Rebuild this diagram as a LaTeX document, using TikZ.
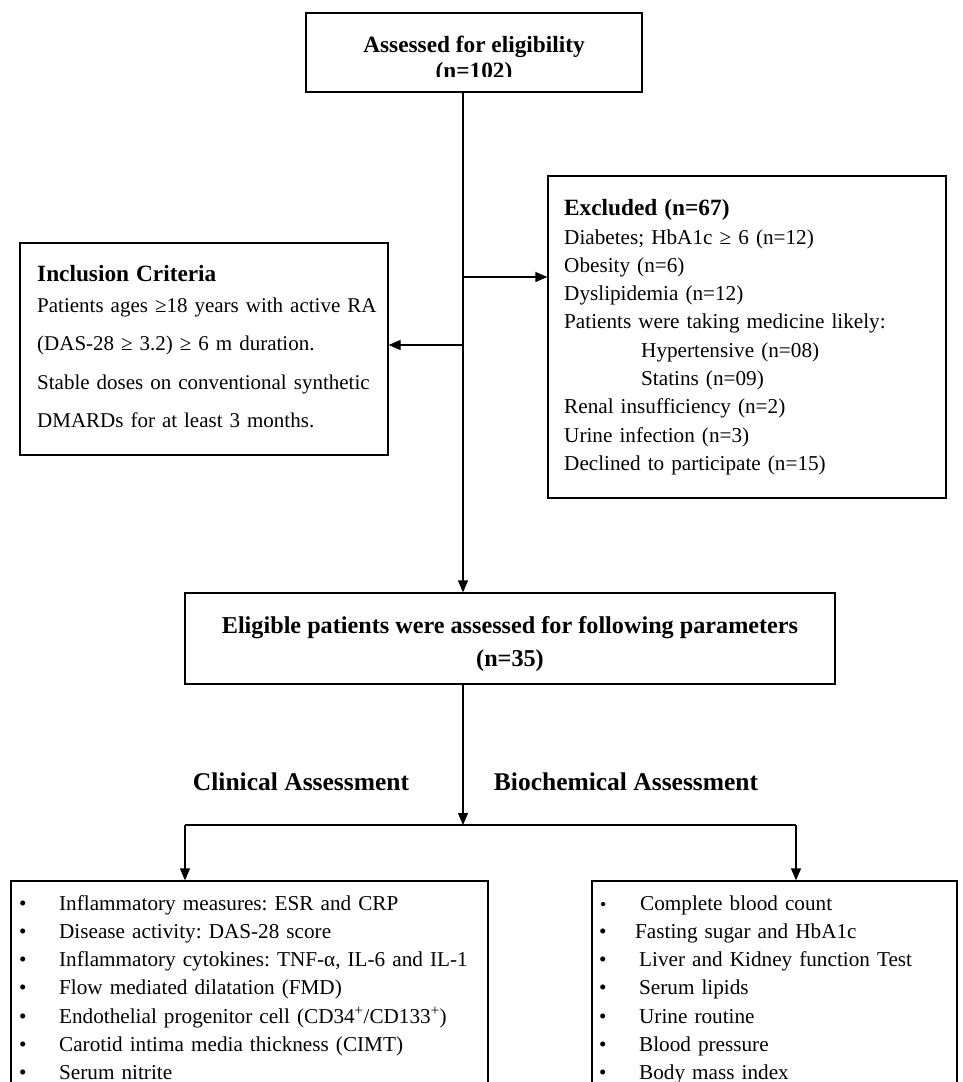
\documentclass[tikz,border=0pt]{standalone}
\usepackage{fontspec}
\setmainfont{Liberation Serif}
\usetikzlibrary{arrows.meta}
\frenchspacing
\newcommand\hdfont{\bfseries\fontsize{23.3bp}{26bp}\selectfont}
\newcommand\hdbig{\bfseries\fontsize{24.2bp}{28bp}\selectfont}
\newcommand\asfont{\bfseries\fontsize{25.5bp}{28bp}\selectfont}
\newcommand\rgfont{\fontsize{21.2bp}{28.3bp}\selectfont}
\newcommand\inclfont{\fontsize{21bp}{38.5bp}\selectfont}
\newcommand\blt{\makebox[40bp][l]{•}}
\begin{document}
\begin{tikzpicture}[x=1bp,y=-1bp,
  box/.style={draw, line width=1.3bp, rectangle, inner sep=0pt},
  conn/.style={line width=1.3bp},
  arr/.style={line width=1.3bp, -{Triangle[length=12bp,width=10bp]}},
  txt/.style={inner sep=0pt, anchor=base west, align=left, text width=#1},
  ctr/.style={inner sep=0pt, anchor=base}
]
\clip (0,0) rectangle (963,1082);
\fill[white] (0,0) rectangle (963,1082);

% boxes
\node[box, minimum width=336bp, minimum height=79bp] (top) at (474,52.5) {};
\node[box, minimum width=368bp, minimum height=212bp] (incl) at (204,349) {};
\node[box, minimum width=398bp, minimum height=322bp] (excl) at (747,337) {};
\node[box, minimum width=650bp, minimum height=91bp] (elig) at (510,638.5) {};
\node[box, minimum width=477bp, minimum height=219bp] (clin) at (249.5,990.5) {};
\node[box, minimum width=365bp, minimum height=219bp] (bio) at (774.5,990.5) {};

% texts
\node[ctr, font=\hdfont] (topT1) at (474,52) {Assessed for eligibility};
\begin{scope}
\clip (306,13) rectangle (642,76);
\node[ctr, font=\hdfont] (topT2) at (474,78) {(n=102)};
\end{scope}

\node[txt=360bp, font=\inclfont] (inclT) at (37,281)
  {{\hdfont Inclusion Criteria}\\[-7.5bp]
   Patients ages ≥18 years with active RA\\
   (DAS-28 ≥ 3.2) ≥ 6 m duration.\\
   Stable doses on conventional synthetic\\
   DMARDs for at least 3 months.};

\node[txt=380bp, font=\rgfont] (exclT) at (564,215)
  {{\hdfont Excluded (n=67)}\\[0.7bp]
   Diabetes; HbA1c ≥ 6 (n=12)\\
   Obesity (n=6)\\
   Dyslipidemia (n=12)\\
   Patients were taking medicine likely:\\
   \hspace*{77bp}Hypertensive (n=08)\\
   \hspace*{77bp}Statins (n=09)\\
   Renal insufficiency (n=2)\\
   Urine infection (n=3)\\
   Declined to participate (n=15)};

\node[ctr, font=\hdbig] (eligT1) at (510,633) {Eligible patients were assessed for following parameters};
\node[ctr, font=\hdbig] (eligT2) at (510,666) {(n=35)};

\node[ctr, font=\asfont] (clinL) at (301,790) {Clinical Assessment};
\node[ctr, font=\asfont] (bioL) at (626,790) {Biochemical Assessment};

\node[txt=470bp, font=\rgfont] (clinT) at (19,910)
  {\blt Inflammatory measures: ESR and CRP\\
   \blt Disease activity: DAS-28 score\\
   \blt Inflammatory cytokines: TNF-α, IL-6 and IL-1\\
   \blt Flow mediated dilatation (FMD)\\
   \blt Endothelial progenitor cell (CD34\textsuperscript{+}/CD133\textsuperscript{+})\\
   \blt Carotid intima media thickness (CIMT)\\
   \blt Serum nitrite};

\node[txt=360bp, font=\rgfont] (bioT) at (599,910)
  {{\fontsize{18bp}{18bp}\selectfont\makebox[40bp][l]{\hspace{1bp}•}}\hspace{1bp}Complete blood count\\
   \makebox[36bp][l]{•}Fasting sugar and HbA1c\\
   \blt Liver and Kidney function Test\\
   \blt Serum lipids\\
   \blt Urine routine\\
   \blt Blood pressure\\
   \blt Body mass index};

% connectors
\coordinate (sx) at (463,0);
\coordinate (j1) at (463,277);
\coordinate (j2) at (463,345);
\coordinate (hm) at (463,825);
\coordinate (hl) at (185,825);
\coordinate (hr) at (796,825);
\draw[arr] (top.south -| sx) -- (elig.north -| sx);
\draw[arr] (j1) -- (excl.west |- j1);
\draw[arr] (j2) -- (incl.east |- j2);
\draw[arr] (elig.south -| sx) -- (hm);
\draw[conn] (hl) -- (hr);
\draw[arr] (hl) -- (clin.north -| hl);
\draw[arr] (hr) -- (bio.north -| hr);
\end{tikzpicture}
\end{document}
